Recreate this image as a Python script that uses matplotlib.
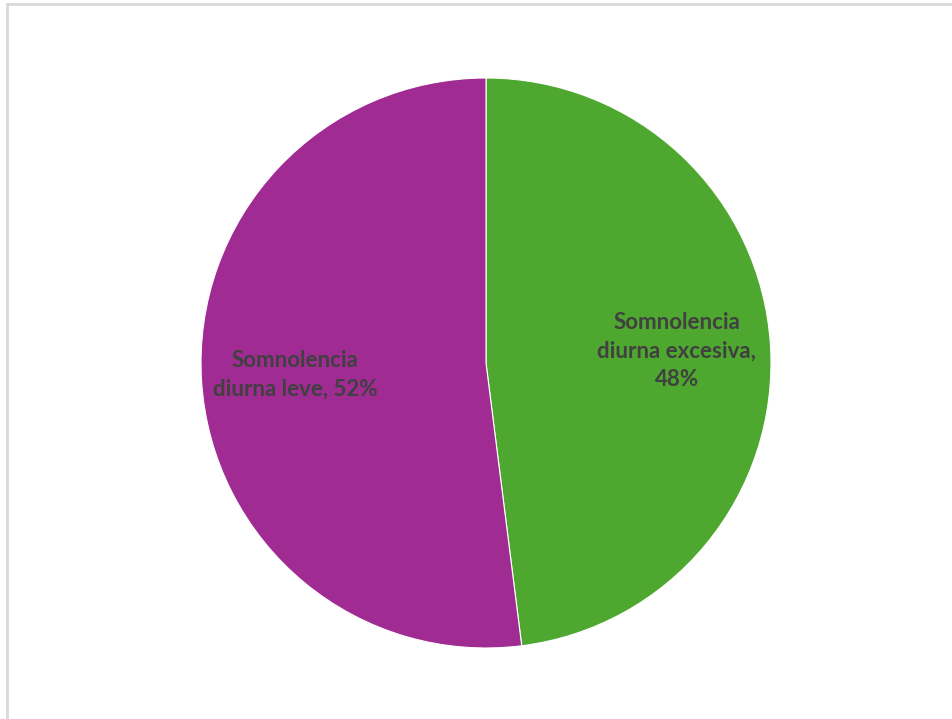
import matplotlib
matplotlib.use("Agg")
import matplotlib.pyplot as plt
from matplotlib.lines import Line2D

categories = ["Somnolencia\ndiurna excesiva", "Somnolencia\ndiurna leve"]
values = [48, 52]
colors = ["#4EA72E", "#A02B93"]
label_texts = ["Somnolencia\ndiurna excesiva,\n48%", "Somnolencia\ndiurna leve, 52%"]

fig = plt.figure(figsize=(9.53, 7.19), dpi=100)
fig.patch.set_facecolor("white")

# chart-area frame (top and left edges visible)
fig.add_artist(Line2D([6.5 / 953, 6.5 / 953], [0, 1 - 3.5 / 719],
                      transform=fig.transFigure, color="#D9D9D9", lw=2))
fig.add_artist(Line2D([6.5 / 953, 1], [1 - 3.5 / 719, 1 - 3.5 / 719],
                      transform=fig.transFigure, color="#D9D9D9", lw=2))

ax = fig.add_axes([201 / 953, 71 / 719, 570 / 953, 570 / 719])
wedges, texts = ax.pie(values, colors=colors, startangle=90, counterclock=False,
                       labels=label_texts, labeldistance=0.67,
                       wedgeprops=dict(edgecolor="white", linewidth=0.8))
for t in texts:
    t.set_ha("center")
    t.set_va("center")
    t.set_fontfamily(["Lato", "DejaVu Sans"])
    t.set_fontweight("bold")
    t.set_fontsize(16)
    t.set_color("#404040")
    t.set_linespacing(1.45)
ax.set_xlim(-1, 1)
ax.set_ylim(-1, 1)
ax.set_aspect("equal")
ax.axis("off")

fig.savefig("out.png", dpi=100, facecolor="white")
